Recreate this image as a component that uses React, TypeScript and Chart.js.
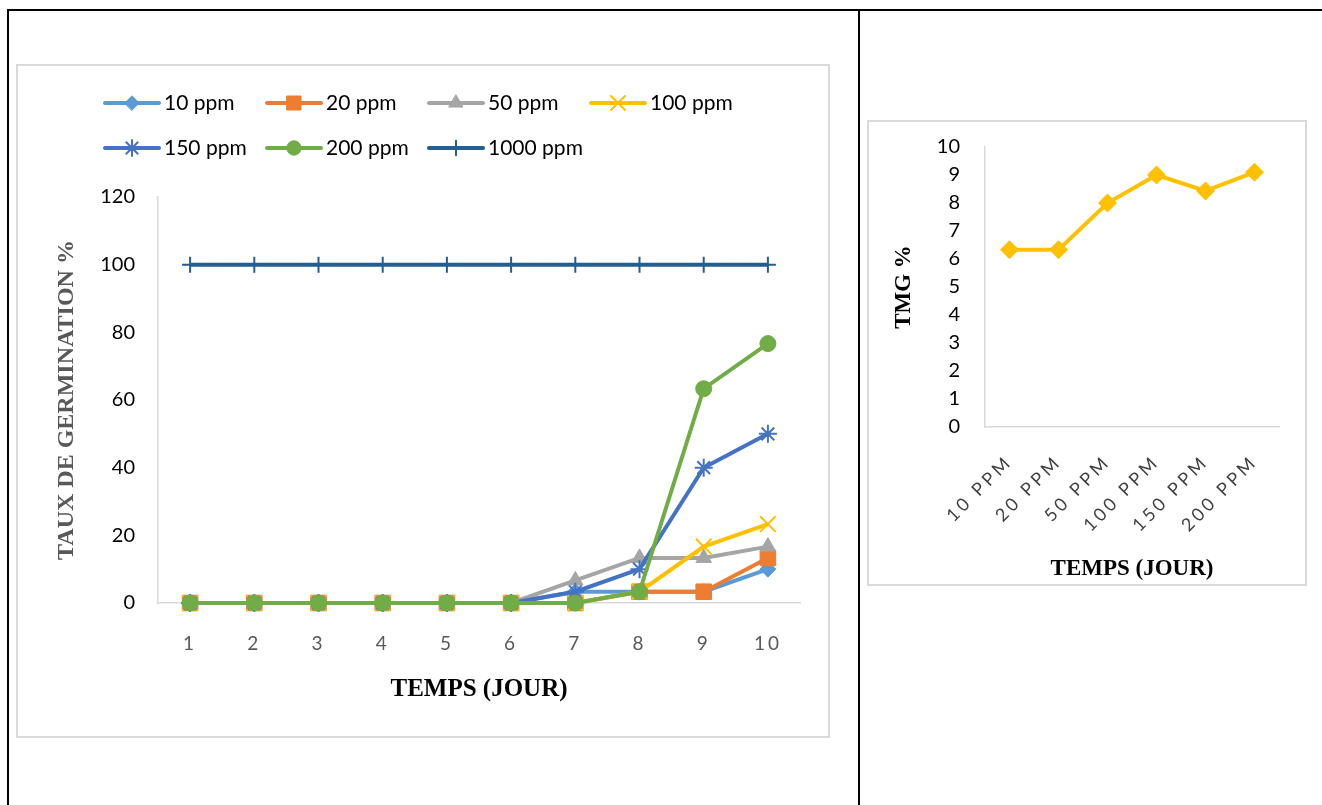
import React, { useEffect, useRef } from 'react';
import { Chart, registerables } from 'chart.js';
import { drawPoint } from 'chart.js/helpers';

Chart.register(...registerables);

// ---------- Data: left chart (taux de germination) ----------
const days = ['1', '2', '3', '4', '5', '6', '7', '8', '9', '10'];
const seriesNames = ['10 ppm', '20 ppm', '50 ppm', '100 ppm', '150 ppm', '200 ppm', '1000 ppm'];
const ppm10 = [0, 0, 0, 0, 0, 0, 3.33, 3.33, 3.33, 10];
const ppm20 = [0, 0, 0, 0, 0, 0, 0, 3.33, 3.33, 13.33];
const ppm50 = [0, 0, 0, 0, 0, 0, 6.67, 13.33, 13.33, 16.67];
const ppm100 = [0, 0, 0, 0, 0, 0, 0, 3.33, 16.67, 23.33];
const ppm150 = [0, 0, 0, 0, 0, 0, 3.33, 10, 40, 50];
const ppm200 = [0, 0, 0, 0, 0, 0, 0, 3.33, 63.33, 76.67];
const ppm1000 = [100, 100, 100, 100, 100, 100, 100, 100, 100, 100];
const germMax = 120;
const germStep = 20;

// ---------- Data: right chart (TMG) ----------
const doses = ['10 PPM', '20 PPM', '50 PPM', '100 PPM', '150 PPM', '200 PPM'];
const tmgValues = [6.33, 6.33, 8, 9, 8.43, 9.1];
const tmgMax = 10;
const tmgStep = 1;

const seriesValues = [ppm10, ppm20, ppm50, ppm100, ppm150, ppm200, ppm1000];
const seriesColors = ['#5B9BD5', '#ED7D31', '#A5A5A5', '#FFC000', '#4472C4', '#70AD47', '#255E91'];
const seriesStyles = ['rectRot', 'rect', 'triangle', 'crossRot', 'star', 'circle', 'cross'];
const seriesRadius = [8, 11, 9, 11, 9, 8, 8];
const seriesBorder = [1, 1, 1, 2, 2, 1, 2];

const TICK_FONT = 'Lato, "Open Sans", sans-serif';
const TITLE_FONT = '"Liberation Serif", "Times New Roman", serif';

const columnLegend = {
  id: 'columnLegend',
  afterDraw(chart: any) {
    const ctx = chart.ctx;
    ctx.save();
    chart.data.datasets.forEach((ds: any, i: number) => {
      const col = i % 4;
      const row = Math.floor(i / 4);
      const x0 = 87 + col * 162;
      const y = 37 + row * 45;
      ctx.lineWidth = 4;
      ctx.lineCap = 'round';
      ctx.strokeStyle = ds.borderColor;
      ctx.beginPath();
      ctx.moveTo(x0, y);
      ctx.lineTo(x0 + 54, y);
      ctx.stroke();
      ctx.fillStyle = ds.pointBackgroundColor;
      ctx.strokeStyle = ds.pointBorderColor;
      ctx.lineWidth = ds.pointBorderWidth;
      drawPoint(ctx, {
        pointStyle: ds.pointStyle,
        rotation: 0,
        radius: ds.pointRadius * 0.9,
        borderWidth: ds.pointBorderWidth,
      } as any, x0 + 27, y);
      ctx.fillStyle = '#000';
      ctx.font = '21px ' + TICK_FONT;
      ctx.textAlign = 'left';
      ctx.textBaseline = 'middle';
      ctx.fillText(ds.label, x0 + 59, y);
    });
    ctx.restore();
  },
};

function spaceLabels(chart: any, spacing: string) {
  const sc = chart.scales.x;
  const orig = sc.drawLabels;
  sc.drawLabels = function (area: any) {
    const ctx = this.ctx;
    ctx.save();
    (ctx as any).letterSpacing = spacing;
    orig.call(this, area);
    ctx.restore();
  };
  chart.draw();
}

export default function App() {
  const leftRef = useRef<HTMLCanvasElement>(null);
  const rightRef = useRef<HTMLCanvasElement>(null);

  useEffect(() => {
    const left = new Chart(leftRef.current!, {
      type: 'line',
      data: {
        labels: days,
        datasets: seriesNames.map((name, i) => ({
          label: name,
          data: seriesValues[i],
          borderColor: seriesColors[i],
          backgroundColor: seriesColors[i],
          pointBackgroundColor: seriesColors[i],
          pointBorderColor: seriesColors[i],
          pointStyle: seriesStyles[i] as any,
          pointRadius: seriesRadius[i],
          pointBorderWidth: seriesBorder[i],
          borderWidth: 4,
          tension: 0,
          fill: false,
          clip: false,
          order: seriesNames.length - i,
        })),
      },
      options: {
        responsive: false,
        animation: false,
        layout: { padding: { top: 131, right: 28, left: 0, bottom: 0 } },
        plugins: { legend: { display: false }, tooltip: { enabled: false } },
        scales: {
          x: {
            type: 'category',
            offset: true,
            grid: { display: false, drawTicks: false },
            border: { color: '#D9D9D9', width: 1.5 },
            ticks: {
              color: '#595959',
              font: { family: TICK_FONT, size: 19 },
              padding: 29,
              maxRotation: 0,
              minRotation: 0,
            },
            title: {
              display: true,
              text: 'TEMPS (JOUR)',
              color: '#000',
              font: { family: TITLE_FONT, weight: 'bold', size: 25 },
              padding: { top: 0, bottom: 31 },
            },
            afterFit: (s: any) => { s.height = 133; },
          },
          y: {
            min: 0,
            max: germMax,
            grid: { display: false, drawTicks: false },
            border: { color: '#D9D9D9', width: 1.5 },
            ticks: {
              stepSize: germStep,
              autoSkip: false,
              color: '#000',
              font: { family: TICK_FONT, size: 20 },
              padding: 23,
            },
            title: {
              display: true,
              text: 'TAUX DE GERMINATION %',
              color: '#595959',
              font: { family: TITLE_FONT, weight: 'bold', size: 24 },
              padding: { top: 34, bottom: 0 },
            },
            afterFit: (s: any) => { s.width = 140; },
          },
        },
      } as any,
      plugins: [columnLegend],
    });
    spaceLabels(left, '3px');

    const right = new Chart(rightRef.current!, {
      type: 'line',
      data: {
        labels: doses,
        datasets: [
          {
            label: 'TMG',
            data: tmgValues,
            borderColor: '#FFC000',
            backgroundColor: '#FFC000',
            pointBackgroundColor: '#FFC000',
            pointBorderColor: '#FFC000',
            pointStyle: 'rectRot',
            pointRadius: 9,
            pointBorderWidth: 1,
            borderWidth: 4,
            tension: 0,
            clip: false,
          },
        ],
      },
      options: {
        responsive: false,
        animation: false,
        layout: { padding: { top: 25, right: 26, left: 0, bottom: 0 } },
        plugins: { legend: { display: false }, tooltip: { enabled: false } },
        scales: {
          x: {
            type: 'category',
            offset: true,
            grid: { display: false, drawTicks: false },
            border: { color: '#D9D9D9', width: 1.5 },
            ticks: {
              color: '#404040',
              font: { family: TICK_FONT, size: 18 },
              padding: 24,
              maxRotation: 45,
              minRotation: 45,
              autoSkip: false,
            },
            title: {
              display: true,
              text: 'TEMPS (JOUR)',
              color: '#000',
              font: { family: TITLE_FONT, weight: 'bold', size: 23 },
              padding: { top: 0, bottom: 1 },
            },
            afterFit: (s: any) => { s.height = 157; },
          },
          y: {
            min: 0,
            max: tmgMax,
            grid: { display: false, drawTicks: false },
            border: { color: '#D9D9D9', width: 1.5 },
            ticks: {
              stepSize: tmgStep,
              autoSkip: false,
              color: '#000',
              font: { family: TICK_FONT, size: 20 },
              padding: 25,
            },
            title: {
              display: true,
              text: 'TMG %',
              color: '#000',
              font: { family: TITLE_FONT, weight: 'bold', size: 23 },
              padding: { top: 21, bottom: 0 },
            },
            afterFit: (s: any) => {
              s.width = 116;
              s.paddingTop = 12;
              s.paddingBottom = 12;
            },
          },
        },
      } as any,
    });
    spaceLabels(right, '3.5px');

    return () => {
      left.destroy();
      right.destroy();
    };
  }, []);

  return (
    <div style={{ position: 'fixed', left: 0, top: 0, width: 1322, height: 805, overflow: 'hidden', background: '#fff' }}>
      {/* table borders */}
      <div style={{ position: 'absolute', left: 7, top: 9, width: 1315, height: 2, background: '#000' }} />
      <div style={{ position: 'absolute', left: 7, top: 9, width: 2, height: 796, background: '#000' }} />
      <div style={{ position: 'absolute', left: 858, top: 9, width: 2, height: 796, background: '#000' }} />
      {/* left chart frame */}
      <div style={{ position: 'absolute', left: 16, top: 64, width: 814, height: 674, border: '2px solid #D9D9D9', boxSizing: 'border-box' }} />
      <canvas ref={leftRef} width={810} height={670} style={{ position: 'absolute', left: 18, top: 66, width: 810, height: 670 }} />
      {/* right chart frame */}
      <div style={{ position: 'absolute', left: 867, top: 120, width: 440, height: 466, border: '2px solid #D9D9D9', boxSizing: 'border-box' }} />
      <canvas ref={rightRef} width={436} height={462} style={{ position: 'absolute', left: 869, top: 122, width: 436, height: 462 }} />
    </div>
  );
}
